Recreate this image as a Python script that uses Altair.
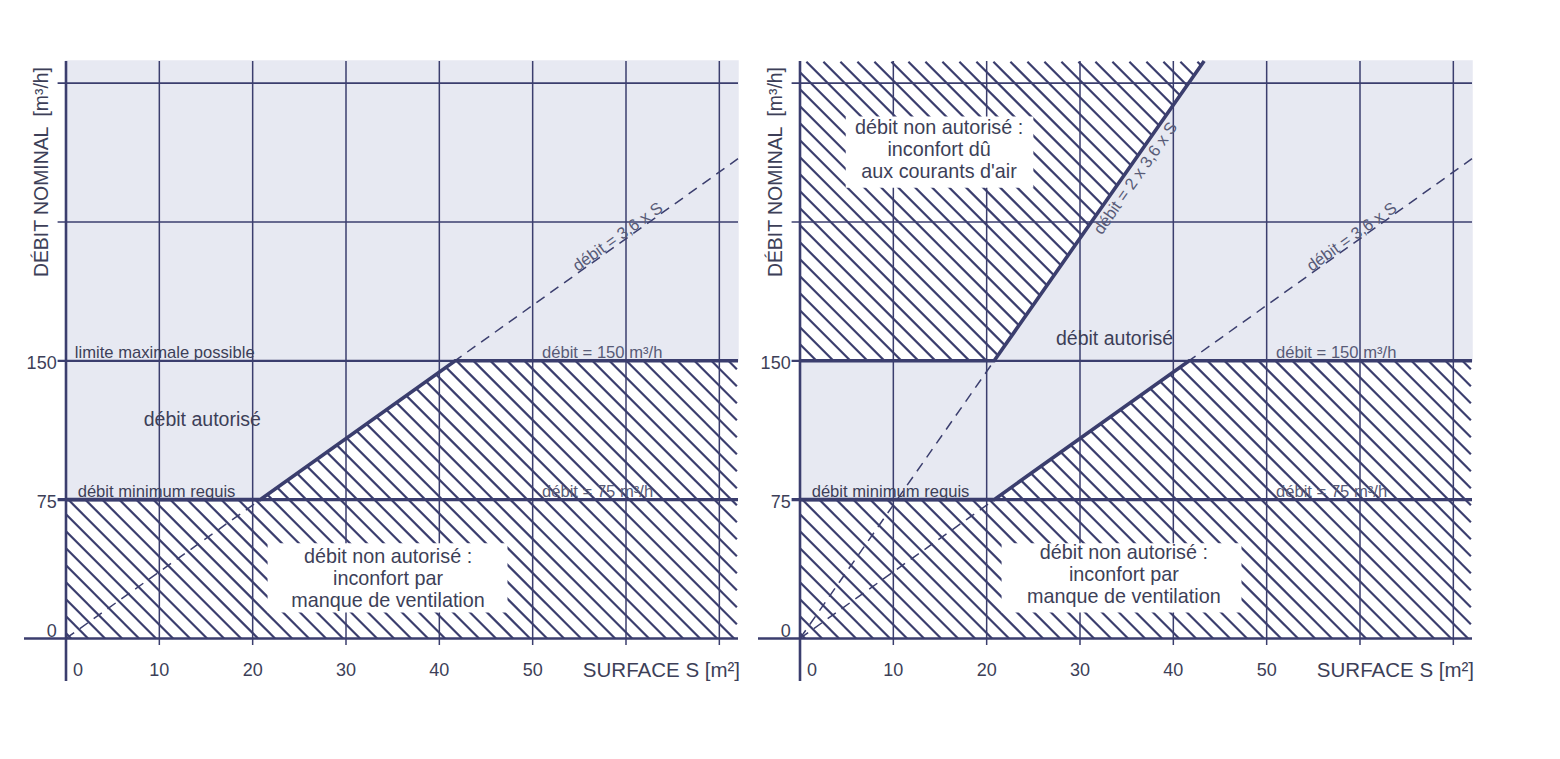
import altair as alt
import numpy as np
import pandas as pd

# ---------------- data ----------------
X_GRID = [0, 10, 20, 30, 40, 50, 60, 70]
X_LABELS = [10, 20, 30, 40, 50]
Y_GRID = [0, 75, 150, 225, 300]
Y_LABELS = [75, 150]

# lower limit: débit minimum 75, then 3,6 x S, then 150 m3/h
LOW_S = [0, 20.8, 41.7, 72]
LOW_Q = [75, 75, 150, 150]
# upper limit (right panel): 150 m3/h then 2 x 3,6 x S
HIGH_S = [0, 20.8, 43.3]
HIGH_Q = [150, 150, 312]
# dashed reference lines
DASH_S = [0, 72]
DASH_Q = [0, 259.2]
DASH2_S = [0, 20.8]
DASH2_Q = [0, 150]

# ---------------- layout constants ----------------
X_DOM = [-4.5, 72]
Y_DOM = [-23, 312]
W, H = 714, 620
PX_X = W / (X_DOM[1] - X_DOM[0])
PX_Y = H / (Y_DOM[1] - Y_DOM[0])

INK = "#3b3e6e"
TXT = "#3d3f58"
TXT2 = "#585b77"
FILL = "#e7e9f2"
FONT = "Liberation Sans"

xs = alt.Scale(domain=X_DOM, nice=False, zero=False)
ys = alt.Scale(domain=Y_DOM, nice=False, zero=False)


def X(f="x"):
    return alt.X(f"{f}:Q", scale=xs, axis=None)


def Y(f="y"):
    return alt.Y(f"{f}:Q", scale=ys, axis=None)


def hatch_df(step_px=17.0):
    k = PX_X / PX_Y  # 45 degrees on screen
    dc = step_px / PX_Y
    top, right = Y_DOM[1] - 0.4, X_DOM[1] - 0.12
    rows = []
    c = dc * 0.3
    while c < top + k * right:
        x0 = max(0.0, (c - top) / k)
        x1 = min(right, c / k)
        if x1 > x0:
            rows.append(dict(x=x0, y=c - k * x0, x2=x1, y2=c - k * x1))
        c += dc
    return pd.DataFrame(rows)


def rules(df, width, **kw):
    return alt.Chart(df).mark_rule(color=INK, strokeWidth=width, **kw).encode(
        x=X(), y=Y(), x2="x2:Q", y2="y2:Q")


def line(s, q, width, **kw):
    df = pd.DataFrame({"x": s, "y": q})
    return alt.Chart(df).mark_line(color=INK, strokeWidth=width, **kw).encode(x=X(), y=Y())


def text(rows, **kw):
    df = pd.DataFrame(rows, columns=["x", "y", "t"])
    base = dict(font=FONT, color=TXT)
    base.update(kw)
    return alt.Chart(df).mark_text(**base).encode(x=X(), y=Y(), text="t:N")


def panel(right):
    layers = []
    # hatch over the whole quadrant
    layers.append(alt.Chart(hatch_df()).mark_rule(color=INK, strokeWidth=2.2).encode(
        x=X(), y=Y(), x2="x2:Q", y2="y2:Q"))
    # allowed region (light fill) masks the hatch
    if right:
        sx = sorted(set(LOW_S) | set(HIGH_S))
        lo = np.interp(sx, LOW_S, LOW_Q)
        hi = np.interp(sx, HIGH_S, HIGH_Q)
    else:
        sx = LOW_S
        lo = LOW_Q
        hi = [Y_DOM[1]] * len(sx)
    mdf = pd.DataFrame({"x": sx, "y": lo, "y2": hi})
    layers.append(alt.Chart(mdf).mark_area(color=FILL, opacity=1, stroke=FILL, strokeWidth=1.5).encode(
        x=X(), y=Y(), y2="y2:Q"))

    # grid lines
    vg = pd.DataFrame({"x": X_GRID[1:], "x2": X_GRID[1:]})
    vg["y"] = -3.5
    vg["y2"] = Y_DOM[1]
    layers.append(rules(vg, 1.5))
    layers.append(rules(pd.DataFrame({"x": [0], "x2": [0], "y": [Y_DOM[0]], "y2": [Y_DOM[1]]}), 2.6))
    hg = pd.DataFrame({"y": Y_GRID[3:], "y2": Y_GRID[3:]})
    hg["x"] = -0.9
    hg["x2"] = X_DOM[1]
    layers.append(rules(hg, 1.7))
    layers.append(rules(pd.DataFrame({"y": [150], "y2": [150], "x": [-0.9], "x2": [X_DOM[1]]}), 2.2))
    layers.append(rules(pd.DataFrame({"y": [75], "y2": [75], "x": [-0.9], "x2": [X_DOM[1]]}), 3.2))
    layers.append(rules(pd.DataFrame({"y": [0], "y2": [0], "x": [X_DOM[0]], "x2": [X_DOM[1]]}), 2.6))

    # limits
    layers.append(line(LOW_S, LOW_Q, 3.6))
    layers.append(line(DASH_S, DASH_Q, 1.5, strokeDash=[10, 7]))
    if right:
        layers.append(line(HIGH_S, HIGH_Q, 3.6))
        layers.append(line(DASH2_S, DASH2_Q, 1.5, strokeDash=[10, 7]))

    # white label boxes
    boxes = [(21.6, 47.3, 14.0, 51.4)]
    if right:
        boxes.append((4.9, 25.0, 243.5, 282.0))
    bdf = pd.DataFrame(boxes, columns=["x", "x2", "y", "y2"])
    layers.append(alt.Chart(bdf).mark_rect(color="white").encode(
        x=X(), x2="x2:Q", y=Y(), y2="y2:Q"))

    # tick labels
    layers.append(text([(v, -17.6, str(v)) for v in X_LABELS], fontSize=18, align="center", baseline="middle"))
    layers.append(text([(0, -17.6, "0")], fontSize=18, align="left", baseline="middle", dx=7))
    layers.append(text([(63.8, -17.6, "SURFACE S [m²]")], fontSize=20.5, align="center", baseline="middle"))
    layers.append(text([(-1.0, v, str(v)) for v in Y_LABELS], fontSize=18, align="right", baseline="middle", dy=3))
    layers.append(text([(-1.0, 0, "0")], fontSize=18, align="right", baseline="middle", dy=-6))
    layers.append(text([(-2.6, 252, "DÉBIT NOMINAL \u00a0[m³/h]")], fontSize=19.4, align="center",
                       baseline="middle", angle=270))

    # annotations
    small = dict(fontSize=16.6, align="left", baseline="alphabetic", dy=-2.5)
    if not right:
        layers.append(text([(0.95, 150, "limite maximale possible")], **small))
    layers.append(text([(1.25, 75, "débit minimum requis")], **small))
    layers.append(text([(51.0, 150, "débit = 150 m³/h"), (51.0, 75, "débit = 75 m³/h")],
                       fontSize=16.6, align="left", baseline="alphabetic", dy=-3, color=TXT2))
    layers.append(text([(59.5, 214.2, "débit = 3,6 x S")], fontSize=16.5, align="center",
                       baseline="middle", dy=-6, angle=324.5, color=TXT2))
    big = dict(fontSize=19.8, align="center", baseline="middle", lineBreak="\n", lineHeight=22)
    if right:
        layers.append(text([(33.7, 162, "débit autorisé")], fontSize=19.5, align="center", baseline="middle"))
        layers.append(text([(35.0, 252, "débit = 2 x 3,6 x S")], fontSize=16.5, align="center",
                           baseline="top", dy=3, angle=305.1, color=TXT2))
        layers.append(text([(14.9, 275.6, "débit non autorisé :\ninconfort dû\naux courants d'air")], **big))
        layers.append(text([(34.7, 46.0, "débit non autorisé :\ninconfort par\nmanque de ventilation")], **big))
    else:
        layers.append(text([(14.6, 118, "débit autorisé")], fontSize=19.5, align="center", baseline="middle"))
        layers.append(text([(34.5, 44.0, "débit non autorisé :\ninconfort par\nmanque de ventilation")], **big))

    return alt.layer(*layers).properties(width=W, height=H)


chart = alt.hconcat(panel(False), panel(True), spacing=20, bounds="flush").properties(
    padding={"left": 22, "top": 53, "right": 5, "bottom": 5},
    background="white",
).configure_view(stroke=None)

chart.save("out.html", embed_options={"renderer": "svg", "actions": False})
